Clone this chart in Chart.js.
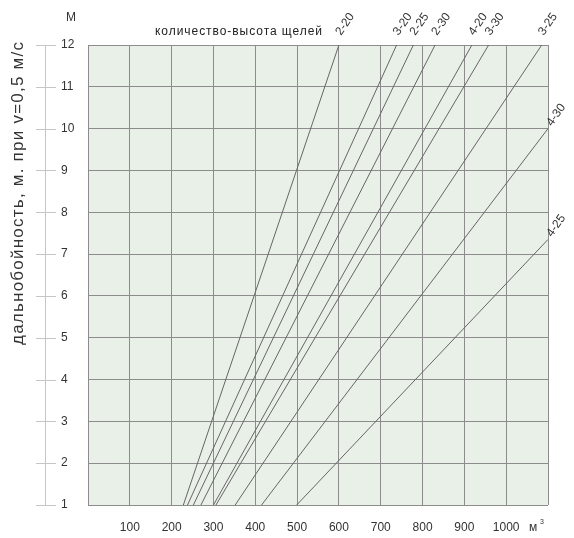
<!DOCTYPE html>
<html>
<head>
<meta charset="utf-8">
<script src="https://cdn.jsdelivr.net/npm/chart.js@4/dist/chart.umd.min.js"></script>
<style>
  body { margin: 0; background: #fff; }
  #wrap { width: 574px; height: 538px; }
</style>
</head>
<body>
<div id="wrap"><canvas id="rangeChart" width="574" height="538"></canvas></div>
<script>
// slot configuration (count-height) and where each line starts/ends
const seriesNames = ["2-20", "3-20", "2-25", "2-30", "4-20", "3-30", "3-25", "4-30", "4-25"];
const startFlow = [228, 238, 252, 270, 300, 306, 352, 415, 499];
const startRange = [1, 1, 1, 1, 1, 1, 1, 1, 1];
const endFlow = [600, 738, 778, 830, 918, 958, 1085, 1100, 1100];
const endRange = [12, 12, 12, 12, 12, 12, 12, 10, 7.35];

const xTickLabels = [100, 200, 300, 400, 500, 600, 700, 800, 900, 1000];
const yTickLabels = [1, 2, 3, 4, 5, 6, 7, 8, 9, 10, 11, 12];

const FONT = "'Liberation Sans', Arial, sans-serif";

// draw text stretched to a given width using letter spacing
function spacedText(ctx, text, x, y, width) {
    let w = ctx.measureText(text).width;
    ctx.letterSpacing = Math.max(0, (width - w) / (text.length - 1)).toFixed(2) + "px";
    ctx.fillText(text, x, y);
    ctx.letterSpacing = "0px";
}

document.addEventListener("DOMContentLoaded", function () {
    let datasets = seriesNames.map((name, i) => ({
        label: name,
        data: [{ x: startFlow[i], y: startRange[i] }, { x: endFlow[i], y: endRange[i] }],
        showLine: true,
        borderColor: "#666",
        borderWidth: 1,
        pointRadius: 0,
        fill: false
    }));

    // background of plot + hand-drawn extras (left axis rule, captions, line labels)
    const decor = {
        id: "decor",
        beforeDraw(chart) {
            const { ctx, chartArea: a } = chart;
            ctx.save();
            ctx.fillStyle = "#e9f0e7";
            ctx.fillRect(a.left, a.top, a.right - a.left, a.bottom - a.top);
            ctx.restore();
        },
        afterDraw(chart) {
            const { ctx, chartArea: a } = chart;
            const xs = chart.scales.x, ys = chart.scales.y;
            ctx.save();

            // separate left axis rule with short ticks
            ctx.strokeStyle = "#c6c6c6";
            ctx.lineWidth = 1;
            ctx.beginPath();
            ctx.moveTo(45.5, a.top);
            ctx.lineTo(45.5, a.bottom);
            yTickLabels.forEach(v => {
                let py = Math.round(ys.getPixelForValue(v)) + 0.5;
                ctx.moveTo(36, py);
                ctx.lineTo(56, py);
            });
            ctx.stroke();

            // unit above y axis
            ctx.fillStyle = "#333";
            ctx.font = "12px " + FONT;
            ctx.textAlign = "center";
            ctx.textBaseline = "middle";
            ctx.fillText("М", 71, 18);

            // y title
            ctx.save();
            ctx.translate(18, 345);
            ctx.rotate(-Math.PI / 2);
            ctx.font = "17px " + FONT;
            ctx.textAlign = "left";
            ctx.fillStyle = "#333";
            spacedText(ctx, "дальнобойность, м. при v=0,5 м/с", 0, 0, 303);
            ctx.restore();

            // caption over the plot
            ctx.font = "12px " + FONT;
            ctx.fillStyle = "#222";
            ctx.textAlign = "left";
            spacedText(ctx, "количество-высота щелей", 155, 32, 167);

            // unit after the last x label
            ctx.font = "12px " + FONT;
            ctx.fillStyle = "#333";
            ctx.textBaseline = "alphabetic";
            ctx.fillText("м", 529, 531);
            ctx.font = "7px " + FONT;
            ctx.fillText("3", 540, 524);

            // rotated labels at line ends
            ctx.font = "12px " + FONT;
            ctx.fillStyle = "#333";
            seriesNames.forEach((name, i) => {
                let px = xs.getPixelForValue(endFlow[i]);
                let py = ys.getPixelForValue(endRange[i]);
                let ox, oy;
                if (endRange[i] >= 12) { ox = px + 2; oy = py - 9; }
                else { ox = px + 4; oy = py - 2; }
                ctx.save();
                ctx.translate(ox, oy);
                ctx.rotate(-55 * Math.PI / 180);
                ctx.fillText(name, 0, 0);
                ctx.restore();
            });
            ctx.restore();
        }
    };

    let ctx = document.getElementById("rangeChart").getContext("2d");
    new Chart(ctx, {
        type: "scatter",
        data: { datasets: datasets },
        options: {
            responsive: false,
            animation: false,
            layout: { padding: { left: 61, top: 45, right: 26, bottom: 0 } },
            plugins: { legend: { display: false }, tooltip: { enabled: false } },
            scales: {
                x: {
                    type: "linear",
                    min: 0,
                    max: 1100,
                    afterFit(scale) { scale.height = 33; },
                    afterBuildTicks(scale) {
                        scale.ticks = [0].concat(xTickLabels, [1100]).map(v => ({ value: v }));
                    },
                    ticks: {
                        padding: 15,
                        color: "#333",
                        font: { family: FONT, size: 12 },
                        maxRotation: 0,
                        autoSkip: false,
                        callback: v => xTickLabels.includes(v) ? String(v) : ""
                    },
                    grid: { color: "#8c8c8c", lineWidth: 1, drawTicks: false },
                    border: { display: false }
                },
                y: {
                    type: "linear",
                    min: 1,
                    max: 12,
                    afterFit(scale) { scale.width = 27; },
                    afterBuildTicks(scale) {
                        scale.ticks = yTickLabels.map(v => ({ value: v }));
                    },
                    ticks: {
                        crossAlign: "far",
                        color: "#333",
                        font: { family: FONT, size: 12 },
                        autoSkip: false
                    },
                    grid: { color: "#8c8c8c", lineWidth: 1, drawTicks: false },
                    border: { display: false }
                }
            }
        },
        plugins: [decor]
    });
});
</script>
</body>
</html>
